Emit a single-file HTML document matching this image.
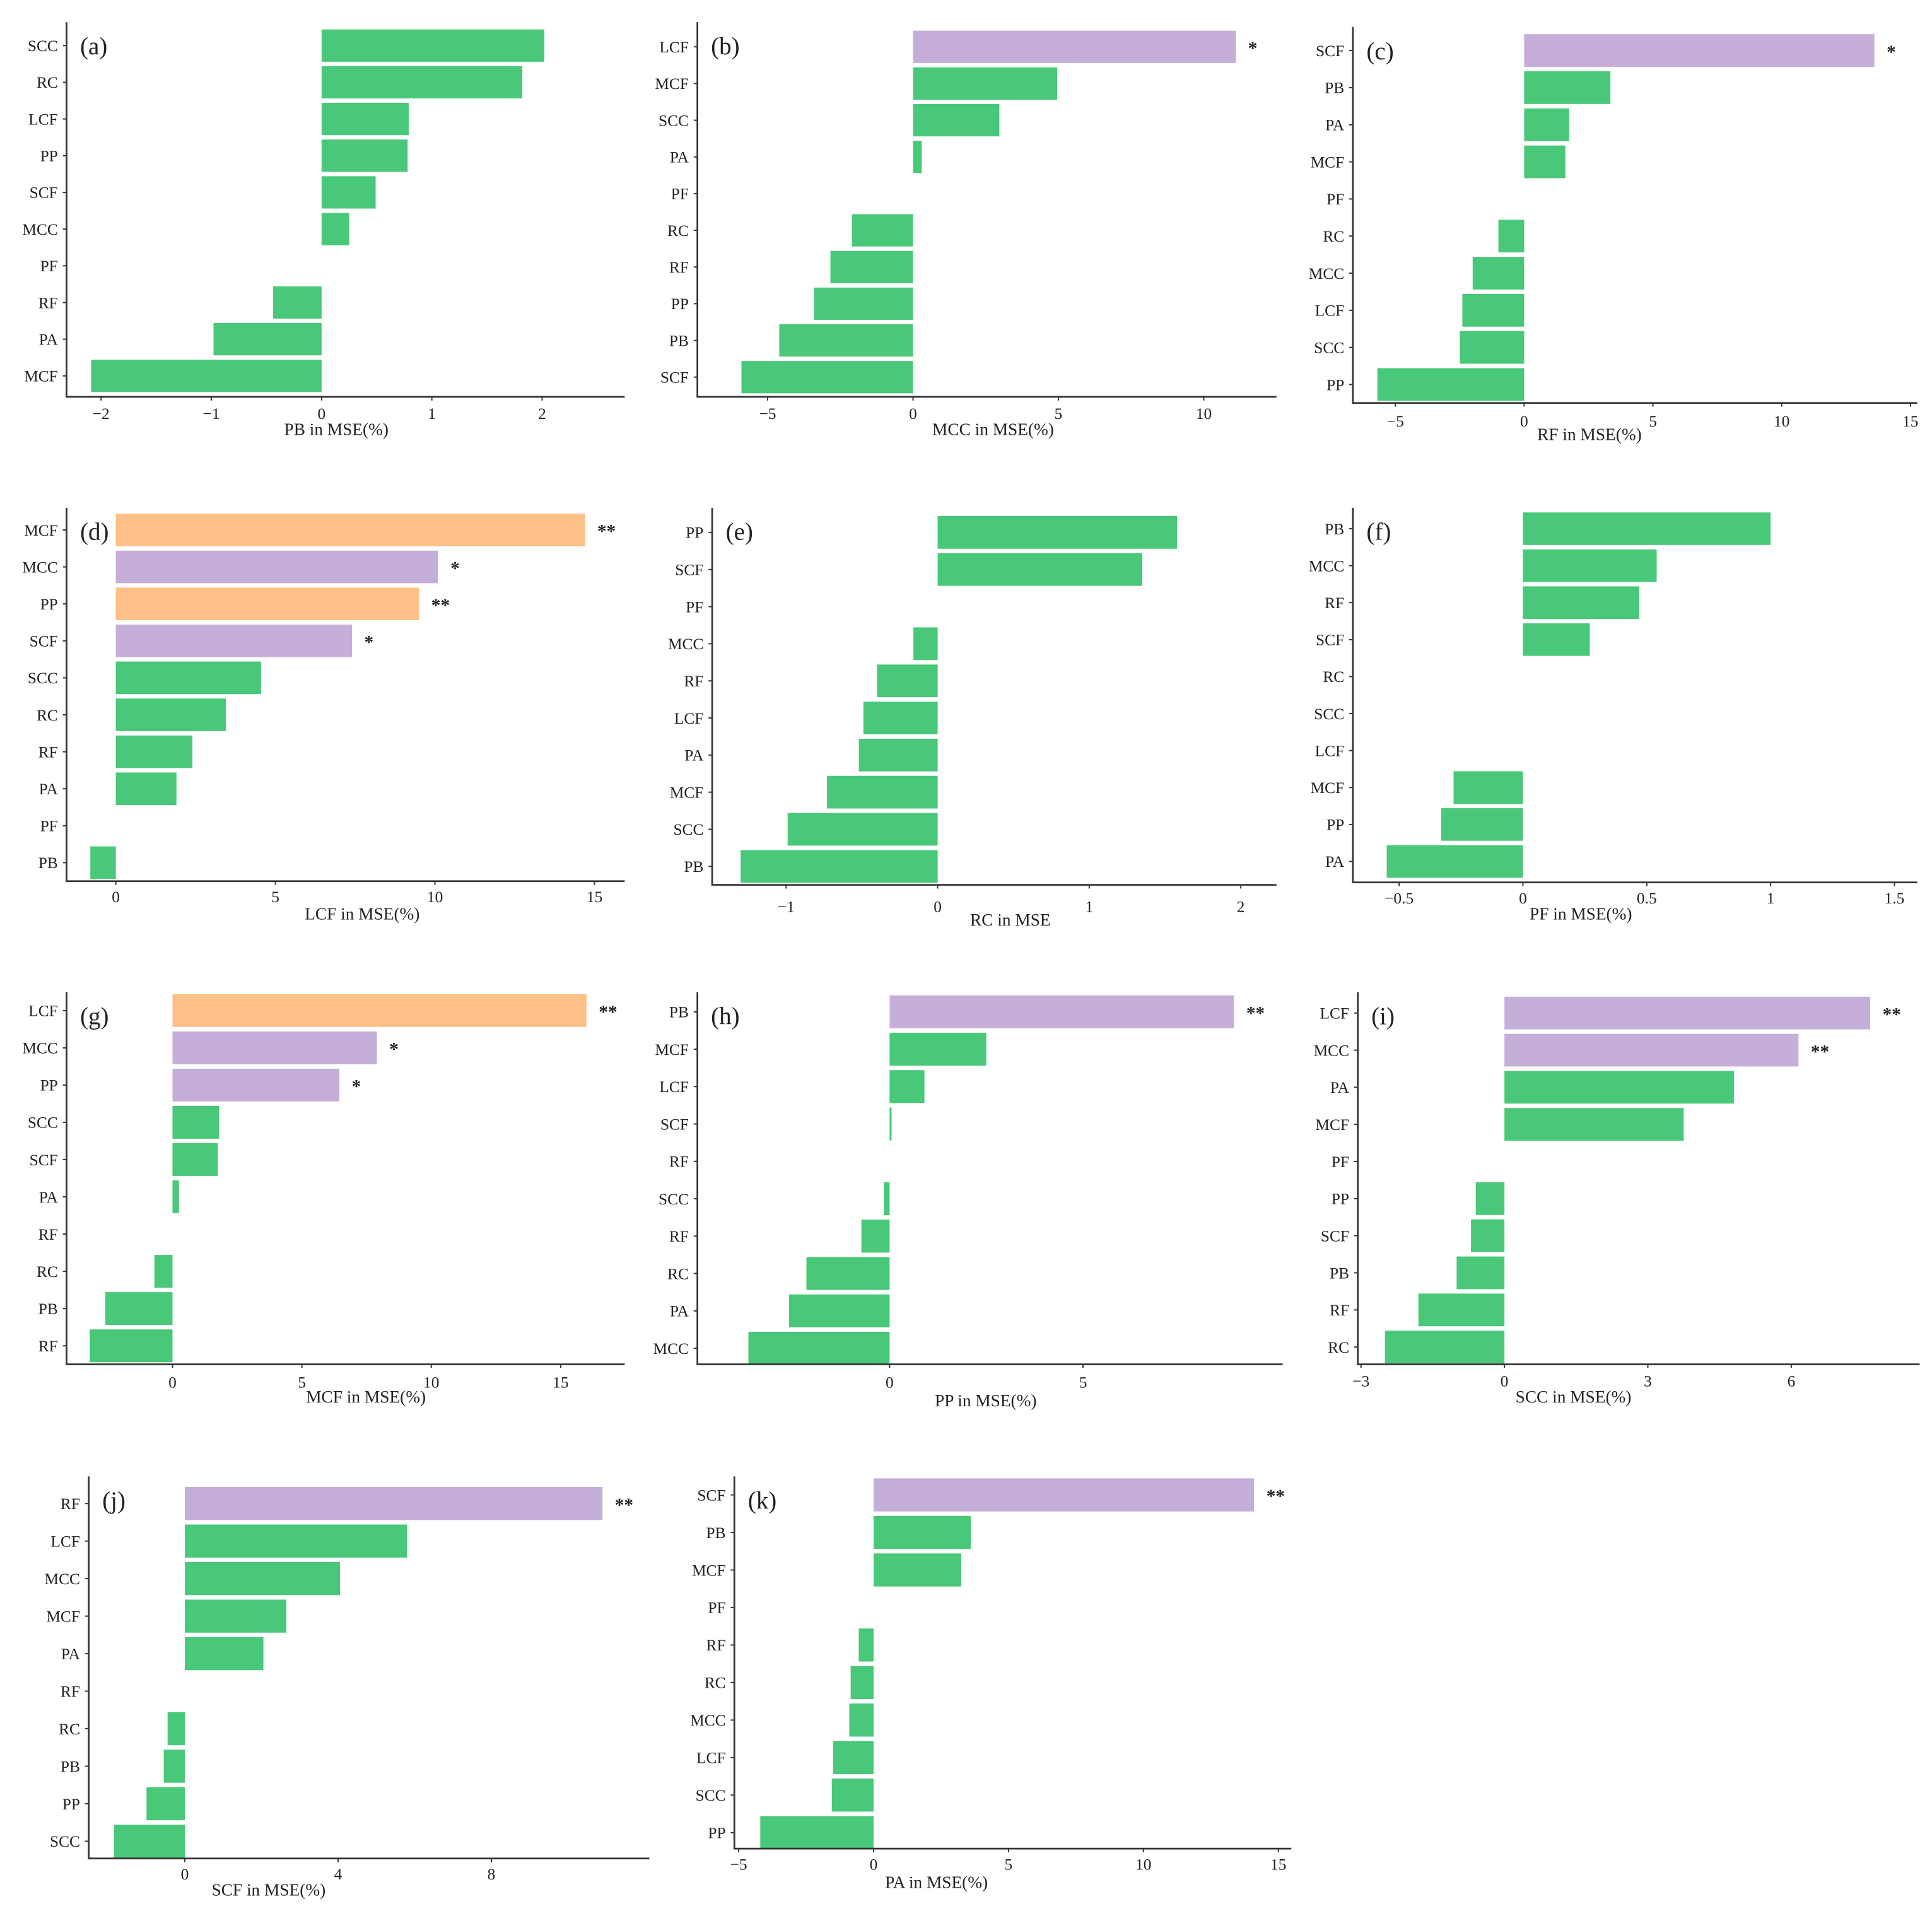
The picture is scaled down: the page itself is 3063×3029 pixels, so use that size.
<!DOCTYPE html>
<html><head><meta charset="utf-8">
<style>
html,body{margin:0;padding:0;background:#fff;}
svg{display:block;}
text{font-family:"Liberation Serif",serif;fill:#222;}
</style></head>
<body>
<svg id="fig" width="3063" height="3029" viewBox="0 0 1568 1550.6" xmlns="http://www.w3.org/2000/svg"></svg>
<script>
// ---- data (one set of small arrays per panel) ----
const catsA=["SCC","RC","LCF","PP","SCF","MCC","PF","RF","PA","MCF"];
const valsA=[2.02,1.82,0.79,0.78,0.49,0.25,0,-0.44,-0.98,-2.09];
const sigA=["","","","","","","","","",""];
const ticksA=[-2,-1,0,1,2];

const catsB=["LCF","MCF","SCC","PA","PF","RC","RF","PP","PB","SCF"];
const valsB=[11.1,4.96,2.97,0.3,0,-2.1,-2.84,-3.4,-4.6,-5.9];
const sigB=["*","","","","","","","","",""];
const ticksB=[-5,0,5,10];

const catsC=["SCF","PB","PA","MCF","PF","RC","MCC","LCF","SCC","PP"];
const valsC=[13.6,3.35,1.75,1.6,0,-1.0,-2.0,-2.4,-2.5,-5.7];
const sigC=["*","","","","","","","","",""];
const ticksC=[-5,0,5,10,15];

const catsD=["MCF","MCC","PP","SCF","SCC","RC","RF","PA","PF","PB"];
const valsD=[14.7,10.1,9.5,7.4,4.55,3.45,2.4,1.9,0,-0.8];
const sigD=["**","*","**","*","","","","","",""];
const ticksD=[0,5,10,15];

const catsE=["PP","SCF","PF","MCC","RF","LCF","PA","MCF","SCC","PB"];
const valsE=[1.58,1.35,0,-0.16,-0.4,-0.49,-0.52,-0.73,-0.99,-1.3];
const sigE=["","","","","","","","","",""];
const ticksE=[-1,0,1,2];

const catsF=["PB","MCC","RF","SCF","RC","SCC","LCF","MCF","PP","PA"];
const valsF=[1.0,0.54,0.47,0.27,0,0,0,-0.28,-0.33,-0.55];
const sigF=["","","","","","","","","",""];
const ticksF=[-0.5,0,0.5,1,1.5];

const catsG=["LCF","MCC","PP","SCC","SCF","PA","RF","RC","PB","RF"];
const valsG=[16.0,7.9,6.45,1.8,1.75,0.25,0,-0.7,-2.6,-3.2];
const sigG=["**","*","*","","","","","","",""];
const ticksG=[0,5,10,15];

const catsH=["PB","MCF","LCF","SCF","RF","SCC","RF","RC","PA","MCC"];
const valsH=[8.9,2.5,0.9,0.05,0,-0.15,-0.73,-2.15,-2.6,-3.65];
const sigH=["**","","","","","","","","",""];
const ticksH=[0,5];

const catsI=["LCF","MCC","PA","MCF","PF","PP","SCF","PB","RF","RC"];
const valsI=[7.65,6.15,4.8,3.75,0,-0.6,-0.7,-1.0,-1.8,-2.5];
const sigI=["**","**","","","","","","","",""];
const ticksI=[-3,0,3,6];

const catsJ=["RF","LCF","MCC","MCF","PA","RF","RC","PB","PP","SCC"];
const valsJ=[10.9,5.8,4.05,2.65,2.05,0,-0.45,-0.55,-1.0,-1.85];
const sigJ=["**","","","","","","","","",""];
const ticksJ=[0,4,8];

const catsK=["SCF","PB","MCF","PF","RF","RC","MCC","LCF","SCC","PP"];
const valsK=[14.1,3.6,3.25,0,-0.55,-0.85,-0.9,-1.5,-1.55,-4.2];
const sigK=["**","","","","","","","","",""];
const ticksK=[-5,0,5,10,15];

// ---- layout (geometry only) ----
const panels=[
 {id:"a",cats:catsA,vals:valsA,sig:sigA,ticks:ticksA,xl:"PB in MSE(%)",L:54,R:507,T:18,B:322,z:261,u:89.5,c0:37,c9:305,ty:335,lx:273,ly:348},
 {id:"b",cats:catsB,vals:valsB,sig:sigB,ticks:ticksB,xl:"MCC in MSE(%)",L:566,R:1036,T:18,B:322,z:741,u:23.6,c0:38,c9:306,ty:335,lx:806,ly:348},
 {id:"c",cats:catsC,vals:valsC,sig:sigC,ticks:ticksC,xl:"RF in MSE(%)",L:1098,R:1556,T:22,B:327,z:1237,u:20.9,c0:41,c9:312,ty:341,lx:1290,ly:352},
 {id:"d",cats:catsD,vals:valsD,sig:sigD,ticks:ticksD,xl:"LCF in MSE(%)",L:54,R:507,T:412,B:715,z:94,u:25.9,c0:430,c9:700,ty:727,lx:294,ly:741},
 {id:"e",cats:catsE,vals:valsE,sig:sigE,ticks:ticksE,xl:"RC in MSE",L:578,R:1036,T:412,B:718,z:761,u:123,c0:432,c9:703,ty:735,lx:820,ly:746},
 {id:"f",cats:catsF,vals:valsF,sig:sigF,ticks:ticksF,xl:"PF in MSE(%)",L:1098,R:1556,T:412,B:716,z:1236,u:201,c0:429,c9:699,ty:728,lx:1283,ly:741},
 {id:"g",cats:catsG,vals:valsG,sig:sigG,ticks:ticksG,xl:"MCF in MSE(%)",L:54,R:507,T:805,B:1107,z:140,u:21,c0:820,c9:1092,ty:1121,lx:297,ly:1133},
 {id:"h",cats:catsH,vals:valsH,sig:sigH,ticks:ticksH,xl:"PP in MSE(%)",L:566,R:1041,T:805,B:1107,z:722,u:31.4,c0:821,c9:1094,ty:1121,lx:800,ly:1136},
 {id:"i",cats:catsI,vals:valsI,sig:sigI,ticks:ticksI,xl:"SCC in MSE(%)",L:1102,R:1558,T:805,B:1107,z:1221,u:38.8,c0:822,c9:1093,ty:1120,lx:1277,ly:1133},
 {id:"j",cats:catsJ,vals:valsJ,sig:sigJ,ticks:ticksJ,xl:"SCF in MSE(%)",L:72,R:527,T:1198,B:1508,z:150,u:31.1,c0:1220,c9:1494,ty:1520,lx:218,ly:1533},
 {id:"k",cats:catsK,vals:valsK,sig:sigK,ticks:ticksK,xl:"PA in MSE(%)",L:596,R:1048,T:1198,B:1500,z:709,u:21.9,c0:1213,c9:1487,ty:1512,lx:760,ly:1527}
];
const GREEN="#48c878",PURPLE="#c5aed8",ORANGE="#fdc086";
const NS="http://www.w3.org/2000/svg";
const svg=document.getElementById("fig");
function mk(tag,attrs,parent){const e=document.createElementNS(NS,tag);for(const k in attrs)e.setAttribute(k,attrs[k]);parent.appendChild(e);return e;}
function fmt(v){return (v<0?"\u2212":"")+Math.abs(v);}

panels.forEach(p=>{
  const g=mk("g",{},svg);
  
  
  const xs=v=>p.z+v*p.u;
  const n=p.cats.length;
  const step=(p.c9-p.c0)/(n-1);
  const ys=i=>p.c0+i*step;
  const bh=step*0.88;
  // bars
  p.vals.forEach((v,i)=>{
    const x0=Math.min(xs(0),xs(v)),w=Math.abs(xs(v)-xs(0));
    const col=p.sig[i]==="**"?(p.id==="d"||p.id==="g"?ORANGE:PURPLE):(p.sig[i]==="*"?PURPLE:GREEN);
    const r=mk("rect",{x:x0,y:ys(i)-bh/2,width:w,height:bh,fill:col},g);
    
    
    if(p.sig[i]){
      const t=mk("text",{x:xs(v)+10,y:ys(i)+6,"font-size":15,"font-weight":"bold"},g);
      t.textContent=p.sig[i];
      
      
    }
    const lab=mk("text",{x:p.L-7,y:ys(i)+4.5,"font-size":13,"text-anchor":"end"},g);
    lab.textContent=p.cats[i];
    
    
    mk("line",{x1:p.L-3,x2:p.L,y1:ys(i),y2:ys(i),stroke:"#333","stroke-width":1},g);
  });
  // axes
  const ax=mk("path",{d:`M${p.L},${p.T} V${p.B} H${p.R}`,fill:"none",stroke:"#333","stroke-width":1.4},g);
  
  
  p.ticks.forEach(tv=>{
    mk("line",{x1:xs(tv),x2:xs(tv),y1:p.B,y2:p.B+3,stroke:"#333","stroke-width":1},g);
    const t=mk("text",{x:xs(tv),y:p.ty+5,"font-size":13,"text-anchor":"middle"},g);
    t.textContent=fmt(tv);
    
    
  });
  const xl=mk("text",{x:p.lx,y:p.ly+5,"font-size":14,"text-anchor":"middle"},g);
  xl.textContent=p.xl;
  
  
  const pl=mk("text",{x:p.L+11,y:p.T+26,"font-size":20},g);
  pl.textContent="("+p.id+")";
  
  
});
</script>
</body></html>
